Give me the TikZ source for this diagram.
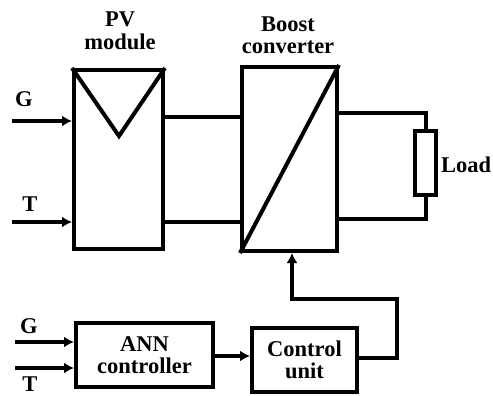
\documentclass[tikz,border=0pt]{standalone}
\usepackage{fontspec}
\setmainfont{Liberation Serif}
\usetikzlibrary{arrows.meta}
\begin{document}
\begin{tikzpicture}[x=1pt,y=-1pt,
  wire/.style={line width=4pt},
  arr/.style={line width=4pt,-{Latex[length=10pt,width=11pt]}},
  blk/.style={draw,line width=4pt,inner sep=0pt},
  lbl/.style={font=\fontsize{22.5}{22.5}\selectfont\bfseries,align=center,inner sep=0pt},
]
\useasboundingbox (0,0) rectangle (493,396);
% PV module
\node[blk,minimum width=89pt,minimum height=179pt] (pv) at (118.5,159.5) {};
\draw[line width=4pt] (pv.north west) -- (119,136) -- (pv.north east);
\node[lbl] (pvl) at (120,31) {PV\\module};
% Boost converter
\node[blk,minimum width=95pt,minimum height=184pt] (bc) at (289.5,159) {};
\draw[line width=4pt] (bc.south west) -- (bc.north east);
\node[lbl] (bcl) at (288,35) {Boost\\converter};
% Load
\node[blk,minimum width=21pt,minimum height=64pt] (ld) at (425.5,163) {};
\node[lbl,anchor=west] (ldl) at (441,165) {Load};
% inputs
\coordinate (g1) at (12,121);
\coordinate (t1) at (12,222);
\node[lbl] (gl1) at (24,99) {G};
\node[lbl] (tl1) at (30,204) {T};
\draw[arr] (g1) -- (g1 -| pv.west);
\draw[arr] (t1) -- (t1 -| pv.west);
% PV -> boost
\draw[wire] (pv.east |- 0,117) -- (bc.west |- 0,117);
\draw[wire] (pv.east |- 0,222) -- (bc.west |- 0,222);
% boost -> load
\draw[wire] (bc.east |- 0,113) -| (ld.north);
\draw[wire] (bc.east |- 0,219) -| (ld.south);
% bottom
\node[blk,minimum width=137pt,minimum height=64pt] (ann) at (144.5,355) {};
\node[lbl] (annl) at (ann.center) {ANN\\controller};
\node[blk,minimum width=105pt,minimum height=64pt] (cu) at (304.5,360) {};
\node[lbl] (cul) at (cu.center) {Control\\unit};
\coordinate (g2) at (15,342);
\coordinate (t2) at (15,368);
\node[lbl] (gl2) at (29,326) {G};
\node[lbl] (tl2) at (30,384) {T};
\draw[arr] (g2) -- (g2 -| ann.west);
\draw[arr] (t2) -- (t2 -| ann.west);
\draw[arr] (ann.east |- 0,356) -- (cu.west |- 0,356);
\coordinate (c1) at (397,358);
\coordinate (c2) at (397,299);
\coordinate (c3) at (292,299);
\draw[arr] (cu.east |- c1) -- (c1) -- (c2) -- (c3) -- (c3 |- bc.south);
\end{tikzpicture}
\end{document}
